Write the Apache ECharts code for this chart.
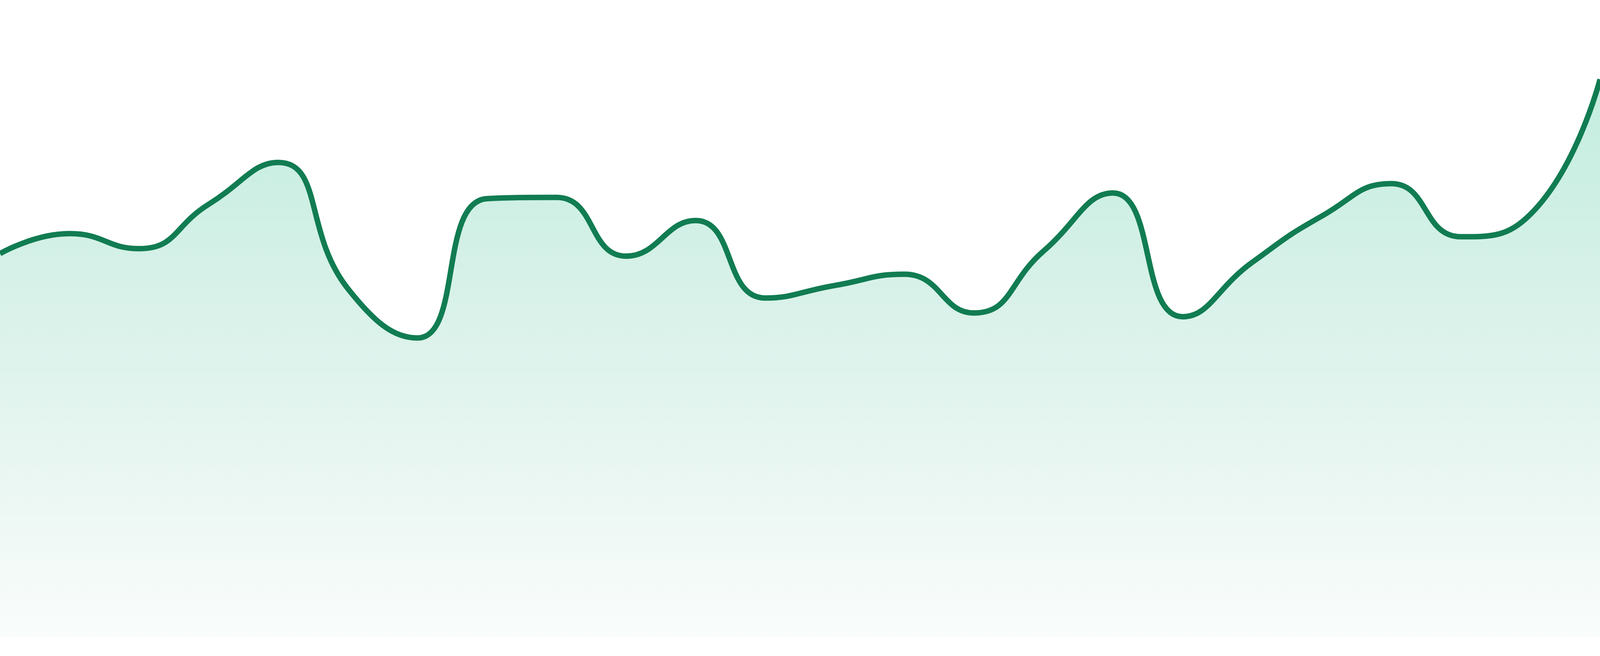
<!DOCTYPE html>
<html>
<head>
  <meta charset="utf-8" />
  <style>
    html, body {
      margin: 0;
      padding: 0;
      width: 100%;
      height: 100%;
      overflow: hidden;
      background: #ffffff;
    }
    #main {
      width: 100vw;
      height: 100vh;
    }
  </style>
</head>
<body>
  <div id="main"></div>
  <script src="https://cdn.jsdelivr.net/npm/echarts@6/dist/echarts.min.js"></script>
  <script>
    // x positions (axis hidden in the picture)
    var categories = ['01', '02', '03', '04', '05', '06', '07', '08', '09', '10', '11', '12',
                      '13', '14', '15', '16', '17', '18', '19', '20', '21', '22', '23', '24'];
    var values = [61.4, 64.6, 62.2, 69.3, 76.0, 55.8, 47.9, 70.2, 70.4, 61.0, 66.7, 54.3,
                  56.3, 58.1, 51.9, 61.8, 71.1, 51.3, 60.0, 67.4, 72.6, 64.1, 67.7, 89.3];

    var chart = echarts.init(document.getElementById('main'));
    var option = {
      animation: false,
      grid: { left: 0, right: 0, top: '1.9%', bottom: '2.86%' },
      xAxis: {
        type: 'category',
        data: categories,
        boundaryGap: false,
        show: false
      },
      yAxis: {
        type: 'value',
        min: 0,
        max: 100,
        show: false,
        splitLine: { show: false }
      },
      series: [
        {
          type: 'line',
          data: values,
          smooth: true,
          symbol: 'none',
          lineStyle: { color: '#117c52', width: 14 },
          itemStyle: { color: '#117c52' },
          areaStyle: {
            color: new echarts.graphic.LinearGradient(0, 0, 0, 1, [
              { offset: 0, color: 'rgba(16, 185, 129, 0.36)' },
              { offset: 1, color: 'rgba(16, 150, 110, 0.03)' }
            ])
          }
        }
      ]
    };
    chart.setOption(option);
    window.addEventListener('resize', function () { chart.resize(); });
  </script>
</body>
</html>
